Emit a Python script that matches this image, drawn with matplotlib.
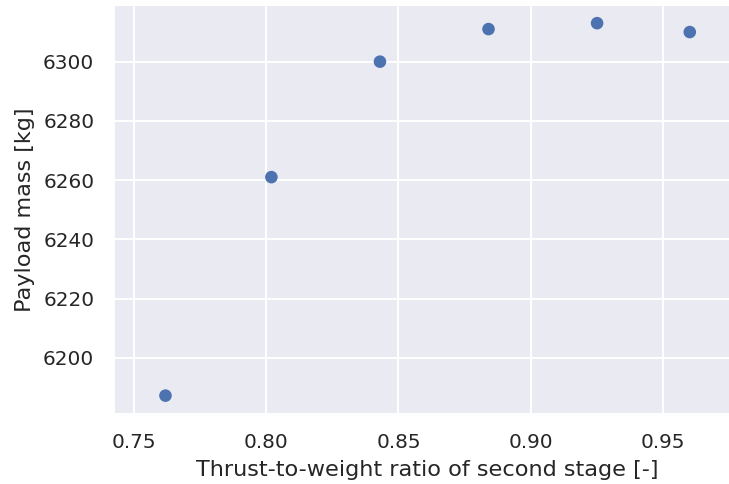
import matplotlib
matplotlib.use("Agg")
import matplotlib.pyplot as plt
import seaborn as sns

# thrust-to-weight ratio of the second stage vs. resulting payload mass
twr = [0.762, 0.802, 0.843, 0.884, 0.925, 0.960]
payload = [6187.2, 6261.0, 6300.0, 6311.0, 6313.0, 6310.0]

sns.set_theme(style="darkgrid")
plt.rcParams['font.family'] = ['DejaVu Sans']

fig = plt.figure(figsize=(7.29, 4.84), dpi=100)
# axes runs a little past the right edge of the figure
ax = fig.add_axes([115 / 729, 71.5 / 484, 624 / 729, 406.5 / 484])

ax.scatter(twr, payload, s=82, color="#4C72B0", edgecolor="none", zorder=3)

ax.set_xlim(0.74294, 0.97859)
ax.set_ylim(6181.5, 6318.8)
ax.set_xticks([0.75, 0.80, 0.85, 0.90, 0.95])
ax.set_yticks([6200, 6220, 6240, 6260, 6280, 6300])
ax.xaxis.set_major_formatter(matplotlib.ticker.FormatStrFormatter('%.2f'))

ax.tick_params(axis='both', length=0, pad=14.9, labelsize=14.4, colors='#262626')
ax.grid(color='white', linewidth=1.4)
for s in ax.spines.values():
    s.set_visible(False)

ax.set_xlabel('Thrust-to-weight ratio of second stage [-]', fontsize=16.1,
              color='#262626', labelpad=5.5)
ax.set_ylabel('Payload mass [kg]', fontsize=16.1, color='#262626', labelpad=6)

fig.savefig("out.png", dpi=100)
